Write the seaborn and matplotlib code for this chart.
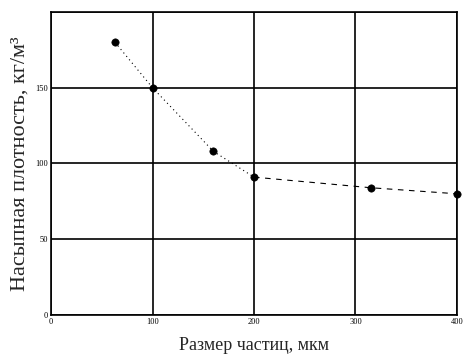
import matplotlib
matplotlib.use('Agg')
import matplotlib.pyplot as plt
import seaborn as sns
import pandas as pd

# Particle size (um) vs bulk density (kg/m3)
size = [63, 100, 160, 200, 315, 400]
density = [180, 150, 108, 91, 84, 80]
x_ticks = [0, 100, 200, 300, 400]
y_ticks = [0, 50, 100, 150, 200]
y_labels = ['0', '50', '100', '150', '']

df = pd.DataFrame({'size': size, 'density': density})
fine = df[df['size'] <= 200]
coarse = df[df['size'] >= 200]

sns.set_style('white')
plt.rcParams['font.family'] = ['Liberation Serif', 'DejaVu Serif']

fig = plt.figure(figsize=(4.73, 3.59), dpi=100)
ax = fig.add_axes([0.108, 0.1226, 0.858, 0.844])

sns.lineplot(data=fine, x='size', y='density', ax=ax, color='black',
             linestyle=(0, (1, 3)), linewidth=0.8)
sns.lineplot(data=coarse, x='size', y='density', ax=ax, color='black',
             linestyle=(0, (5, 5)), linewidth=0.8)
sns.scatterplot(data=df, x='size', y='density', ax=ax, color='black',
                s=28, edgecolor='black', zorder=5, clip_on=False)

ax.set_xlim(0, 400)
ax.set_ylim(0, 200)
ax.set_xticks(x_ticks)
ax.set_yticks(y_ticks)
ax.set_yticklabels(y_labels)
ax.grid(True, color='black', linewidth=1.2)
for sp in ax.spines.values():
    sp.set_color('black')
    sp.set_linewidth(1.2)
ax.tick_params(labelsize=6, length=0, pad=2, colors='black')
ax.set_xlabel('Размер частиц, мкм', fontsize=13, labelpad=8)
ax.set_ylabel('Насыпная плотность, кг/м³', fontsize=16, labelpad=4)

fig.savefig('out.png', dpi=100)
